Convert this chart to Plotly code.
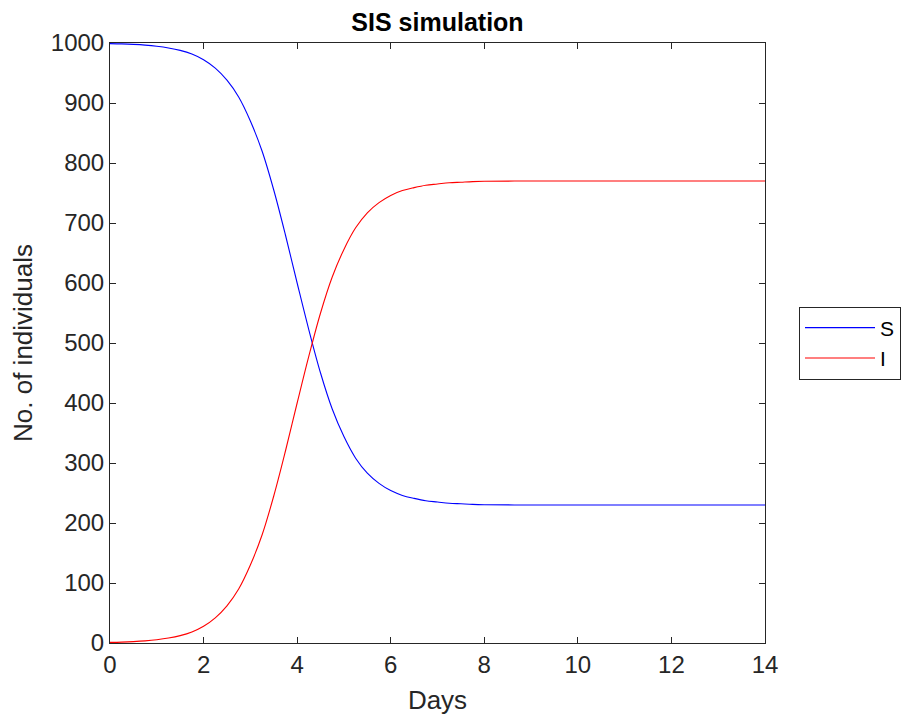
import plotly.graph_objects as go

# Time (days)
days = [0, 0.25, 0.5, 0.75, 1.0, 1.25, 1.5, 1.75, 2.0, 2.25, 2.5, 2.75, 3.0, 3.25, 3.5,
        3.75, 4.0, 4.25, 4.5, 4.75, 5.0, 5.25, 5.5, 5.75, 6.0, 6.25, 6.5, 6.75, 7.0,
        7.25, 7.5, 7.75, 8.0, 9, 10, 11, 12, 13, 14]

# Infected
infected = [1, 1.5, 2.3, 3.5, 5.4, 8.2, 12.3, 18.5, 28, 42, 62, 90, 130, 180, 245,
            320, 400, 478, 550, 610, 656, 692, 717, 734, 746, 754, 759, 763, 765,
            767, 768, 769, 769.5, 770, 770, 770, 770, 770, 770]

# Susceptible
susceptible = [999, 998.5, 997.7, 996.5, 994.6, 991.8, 987.7, 981.5, 972, 958, 938, 910,
               870, 820, 755, 680, 600, 522, 450, 390, 344, 308, 283, 266, 254, 246,
               241, 237, 235, 233, 232, 231, 230.5, 230, 230, 230, 230, 230, 230]

x_ticks = [0, 2, 4, 6, 8, 10, 12, 14]
y_ticks = [0, 100, 200, 300, 400, 500, 600, 700, 800, 900, 1000]

AX = "#262626"
FONT = "Liberation Sans, Arial, sans-serif"

fig = go.Figure()
fig.add_trace(go.Scatter(x=days, y=susceptible, mode="lines", name="S",
                         line=dict(color="#0000FF", width=1.1, shape="spline")))
fig.add_trace(go.Scatter(x=days, y=infected, mode="lines", name="I",
                         line=dict(color="#FF0000", width=1.1, shape="spline")))

axis_common = dict(showline=True, linecolor=AX, linewidth=1, mirror="ticks",
                   ticks="inside", ticklen=6, tickcolor=AX, tickwidth=1,
                   showgrid=False, zeroline=False,
                   tickfont=dict(family=FONT, size=24, color=AX))

fig.update_layout(
    width=901, height=715,
    paper_bgcolor="white", plot_bgcolor="white",
    margin=dict(l=110, r=136, t=43, b=72, autoexpand=False),
    title=dict(text="<b>SIS simulation</b>", x=(110 + 765) / 2 / 901, xanchor="center",
               y=1 - 22 / 715, yanchor="middle", yref="container",
               font=dict(family=FONT, size=25, color="black")),
    xaxis=dict(range=[0, 14], tickvals=x_ticks,
               title=dict(text="Days", font=dict(family=FONT, size=26, color=AX), standoff=16),
               **axis_common),
    yaxis=dict(range=[0, 1000], tickvals=y_ticks,
               title=dict(text="No. of individuals", font=dict(family=FONT, size=26, color=AX), standoff=10),
               **axis_common),
    legend=dict(x=(799 - 110) / 655, xanchor="left", y=0.5, yanchor="middle",
                bordercolor=AX, borderwidth=1, bgcolor="white",
                font=dict(family=FONT, size=21, color="black"),
                itemwidth=70, tracegroupgap=0),
    showlegend=True,
)

fig.write_html("out.html")
